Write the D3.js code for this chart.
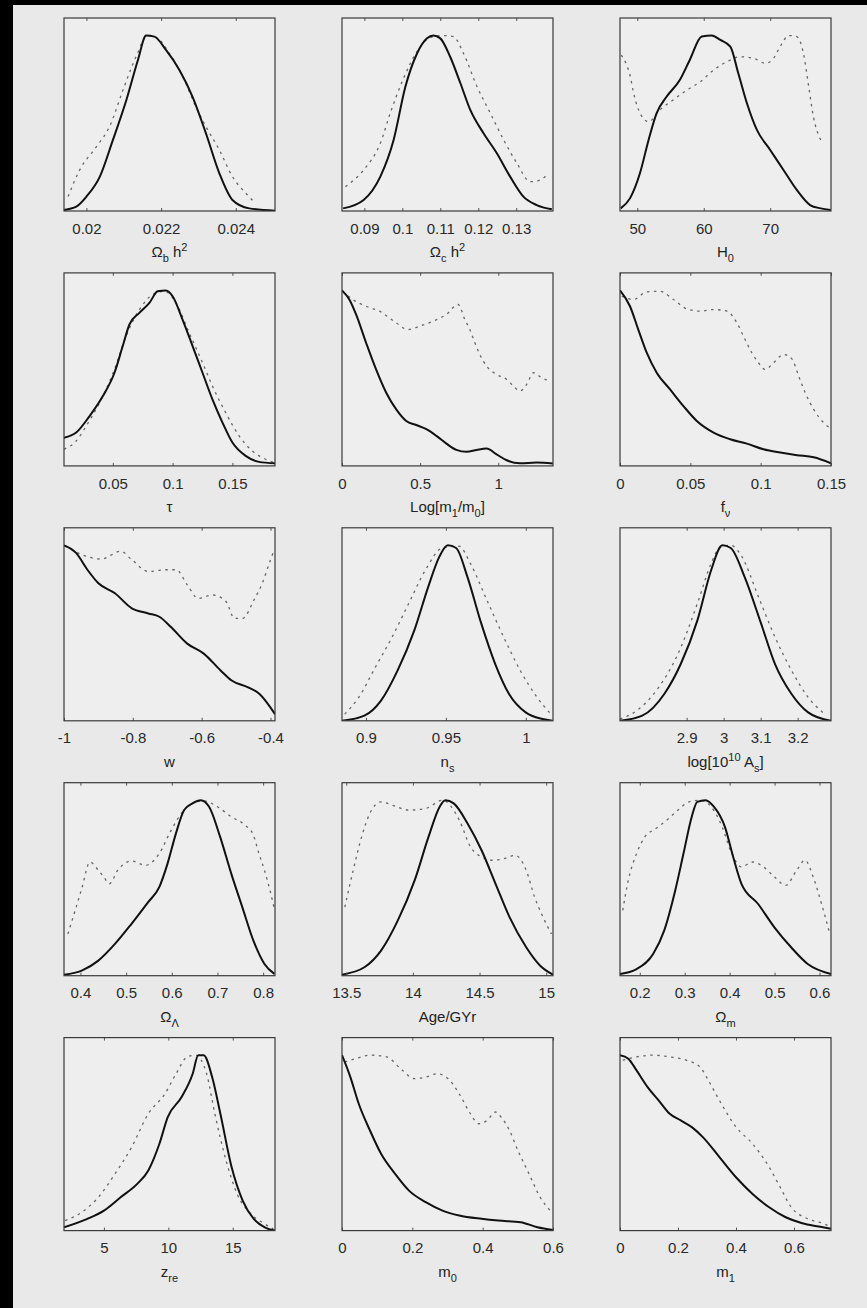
<!DOCTYPE html>
<html>
<head>
<meta charset="utf-8">
<script src="https://cdn.jsdelivr.net/npm/d3@7/dist/d3.min.js"></script>
<style>
  html, body { margin: 0; padding: 0; background: #e9e9e9; overflow: hidden; }
  svg { display: block; }
  text { font-family: "Liberation Sans", Arial, sans-serif; fill: #222; }
</style>
</head>
<body>
<svg id="fig" width="867" height="1308"></svg>
<script>
// ---- data: marginalised likelihoods (solid) and mean likelihoods (dotted), peak normalised to 1 ----

// Omega_b h^2
var obhDomain = [0.0194, 0.02505];
var obhTicks = [0.02, 0.022, 0.024];
var obhLabel = [["Ω"], ["b", "sub"], [" h"], ["2", "sup"]];
var obhSolid = [[0.01940,0.006],[0.01973,0.025],[0.02000,0.082],[0.02036,0.196],[0.02071,0.405],[0.02107,0.633],[0.02138,0.861],[0.02160,1.0],[0.02182,0.994],[0.02213,0.918],[0.02249,0.804],[0.02284,0.652],[0.02320,0.443],[0.02356,0.215],[0.02391,0.063],[0.02436,0.015],[0.02505,0.002]];
var obhDotted = [[0.01951,0.082],[0.01982,0.234],[0.02027,0.367],[0.02062,0.481],[0.02098,0.69],[0.02133,0.88],[0.02164,1.0],[0.02187,0.99],[0.02222,0.899],[0.02258,0.766],[0.02293,0.595],[0.02320,0.481],[0.02356,0.348],[0.02391,0.196],[0.02427,0.101],[0.02453,0.044]];

// Omega_c h^2
var ochDomain = [0.0841, 0.1397];
var ochTicks = [0.09, 0.1, 0.11, 0.12, 0.13];
var ochLabel = [["Ω"], ["c", "sub"], [" h"], ["2", "sup"]];
var ochSolid = [[0.0844,0.015],[0.0898,0.063],[0.0942,0.196],[0.0977,0.405],[0.1008,0.708],[0.1039,0.899],[0.1065,0.984],[0.1082,1.0],[0.1100,0.984],[0.1126,0.879],[0.1153,0.728],[0.1179,0.576],[0.1214,0.443],[0.1249,0.329],[0.1284,0.196],[0.1319,0.082],[0.1354,0.034],[0.1394,0.01]];
var ochDotted = [[0.0850,0.139],[0.0898,0.234],[0.0942,0.386],[0.0968,0.557],[0.1000,0.74],[0.1039,0.91],[0.1075,0.99],[0.1110,1.0],[0.1135,0.994],[0.1161,0.899],[0.1197,0.708],[0.1232,0.557],[0.1267,0.405],[0.1302,0.272],[0.1337,0.167],[0.1363,0.177],[0.1385,0.215]];

// H_0
var h0Domain = [47.4, 79.15];
var h0Ticks = [50, 60, 70];
var h0Label = [["H"], ["0", "sub"]];
var h0Solid = [[47.5,0.015],[48.9,0.072],[50.4,0.215],[51.7,0.405],[52.9,0.557],[54.4,0.651],[56.4,0.747],[57.9,0.861],[59.7,0.994],[61.2,1.0],[62.5,0.975],[64.0,0.937],[65.2,0.785],[66.5,0.614],[68.0,0.462],[70.0,0.348],[72.0,0.234],[74.0,0.12],[76.0,0.034],[77.6,0.015],[79.1,0.006]];
var h0Dotted = [[47.6,0.889],[48.4,0.832],[48.9,0.775],[49.4,0.68],[50.2,0.576],[51.7,0.509],[53.4,0.576],[55.4,0.633],[57.5,0.69],[59.5,0.737],[61.5,0.804],[63.5,0.851],[65.5,0.879],[67.5,0.87],[69.3,0.842],[70.5,0.87],[71.5,0.937],[72.8,1.0],[74.0,0.994],[75.0,0.899],[75.8,0.708],[76.5,0.538],[77.6,0.405]];

// tau
var tauDomain = [0.0092, 0.1856];
var tauTicks = [0.05, 0.1, 0.15];
var tauLabel = [["τ"]];
var tauSolid = [[0.0092,0.161],[0.0194,0.19],[0.0306,0.284],[0.0417,0.398],[0.0514,0.531],[0.0583,0.683],[0.0639,0.806],[0.0722,0.872],[0.0806,0.929],[0.0875,0.995],[0.0944,1.0],[0.1,0.967],[0.1083,0.834],[0.1167,0.683],[0.125,0.531],[0.1333,0.379],[0.1417,0.247],[0.15,0.133],[0.1611,0.057],[0.1722,0.023],[0.1856,0.015]];
var tauDotted = [[0.0092,0.095],[0.0194,0.142],[0.0278,0.228],[0.0389,0.36],[0.0514,0.55],[0.0611,0.74],[0.0722,0.89],[0.0833,0.976],[0.0931,0.995],[0.1028,0.929],[0.1139,0.758],[0.125,0.588],[0.1333,0.455],[0.1444,0.303],[0.1556,0.171],[0.1667,0.085],[0.1778,0.038],[0.185,0.019]];

// Log[m1/m0]
var lmrDomain = [0, 1.35];
var lmrTicks = [0, 0.5, 1];
var lmrLabel = [["Log[m"], ["1", "sub"], ["/m"], ["0", "sub"], ["]"]];
var lmrSolid = [[0,1.0],[0.047,0.948],[0.09,0.863],[0.154,0.702],[0.218,0.55],[0.283,0.417],[0.347,0.322],[0.411,0.256],[0.475,0.233],[0.54,0.209],[0.604,0.171],[0.668,0.127],[0.732,0.091],[0.797,0.08],[0.861,0.091],[0.925,0.099],[0.989,0.066],[1.054,0.032],[1.139,0.015],[1.246,0.019],[1.349,0.013]];
var lmrDotted = [[0.004,0.995],[0.069,0.948],[0.154,0.91],[0.24,0.882],[0.347,0.815],[0.422,0.777],[0.497,0.796],[0.582,0.825],[0.668,0.863],[0.743,0.92],[0.786,0.834],[0.818,0.777],[0.85,0.702],[0.882,0.635],[0.925,0.569],[0.989,0.521],[1.054,0.493],[1.096,0.455],[1.139,0.427],[1.182,0.465],[1.225,0.531],[1.278,0.502],[1.332,0.484]];

// f_nu
var fnuDomain = [0, 0.15];
var fnuTicks = [0, 0.05, 0.1, 0.15];
var fnuLabel = [["f"], ["ν", "sub"]];
var fnuSolid = [[0,1.0],[0.0071,0.91],[0.013,0.777],[0.019,0.645],[0.0261,0.531],[0.0356,0.436],[0.0451,0.341],[0.0546,0.256],[0.0665,0.19],[0.0783,0.152],[0.0902,0.127],[0.102,0.095],[0.1139,0.076],[0.1258,0.061],[0.1377,0.049],[0.15,0.015]];
var fnuDotted = [[0.0012,0.967],[0.0095,0.948],[0.019,0.992],[0.0285,0.995],[0.038,0.948],[0.0475,0.895],[0.057,0.882],[0.0665,0.891],[0.076,0.882],[0.0831,0.815],[0.0889,0.72],[0.0937,0.645],[0.0984,0.588],[0.1032,0.55],[0.1092,0.588],[0.1163,0.635],[0.1222,0.61],[0.127,0.512],[0.1317,0.417],[0.1377,0.322],[0.1448,0.246],[0.149,0.218]];

// w
var wDomain = [-1, -0.387];
var wTicks = [-1, -0.8, -0.6, -0.4];
var wLabel = [["w"]];
var wSolid = [[-1,1.0],[-0.965,0.957],[-0.932,0.861],[-0.9,0.784],[-0.852,0.727],[-0.803,0.641],[-0.755,0.612],[-0.723,0.593],[-0.69,0.536],[-0.642,0.44],[-0.594,0.383],[-0.545,0.287],[-0.513,0.23],[-0.465,0.191],[-0.432,0.153],[-0.387,0.038]];
var wDotted = [[-0.997,0.999],[-0.948,0.947],[-0.892,0.922],[-0.835,0.966],[-0.803,0.918],[-0.755,0.851],[-0.706,0.861],[-0.674,0.861],[-0.642,0.775],[-0.61,0.698],[-0.569,0.717],[-0.529,0.679],[-0.505,0.584],[-0.481,0.584],[-0.448,0.689],[-0.424,0.784],[-0.4,0.918],[-0.389,0.976]];

// n_s
var nsDomain = [0.885, 1.017];
var nsTicks = [0.9, 0.95, 1];
var nsLabel = [["n"], ["s", "sub"]];
var nsSolid = [[0.885,0.0],[0.899,0.029],[0.9094,0.115],[0.9198,0.287],[0.9303,0.517],[0.939,0.765],[0.946,0.937],[0.9512,1.0],[0.9564,0.985],[0.9634,0.822],[0.9721,0.555],[0.9808,0.325],[0.9895,0.153],[0.9999,0.048],[1.0104,0.01],[1.0167,0.0]];
var nsDotted = [[0.8867,0.038],[0.8955,0.134],[0.9059,0.306],[0.9164,0.478],[0.9268,0.67],[0.9373,0.861],[0.9477,0.985],[0.9582,0.995],[0.9652,0.899],[0.9756,0.689],[0.9861,0.478],[0.9965,0.287],[1.007,0.134],[1.0157,0.038]];

// log[10^10 A_s]
var asDomain = [2.72, 3.29];
var asTicks = [2.9, 3, 3.1, 3.2];
var asLabel = [["log[10"], ["10", "sup"], [" A"], ["s", "sub"], ["]"]];
var asSolid = [[2.72,0.0],[2.78,0.029],[2.8396,0.153],[2.8844,0.325],[2.9293,0.574],[2.9666,0.861],[2.9965,1.0],[3.019,0.985],[3.0563,0.822],[3.101,0.555],[3.1385,0.325],[3.1834,0.153],[3.2282,0.048],[3.29,0.0]];
var asDotted = [[2.72,0.01],[2.7648,0.057],[2.8246,0.191],[2.877,0.383],[2.9293,0.67],[2.9666,0.899],[2.9891,0.985],[3.019,1.0],[3.0488,0.937],[3.0937,0.708],[3.1385,0.478],[3.1834,0.287],[3.2282,0.134],[3.2731,0.038]];

// Omega_Lambda
var olDomain = [0.364, 0.826];
var olTicks = [0.4, 0.5, 0.6, 0.7, 0.8];
var olLabel = [["Ω"], ["Λ", "sub"]];
var olSolid = [[0.364,0.006],[0.4028,0.029],[0.4392,0.086],[0.4756,0.181],[0.5119,0.296],[0.5483,0.419],[0.5726,0.505],[0.5907,0.639],[0.609,0.81],[0.6271,0.944],[0.6453,0.982],[0.6635,1.0],[0.6817,0.963],[0.7059,0.791],[0.7302,0.582],[0.7544,0.391],[0.7787,0.2],[0.8029,0.067],[0.8248,0.01]];
var olDotted = [[0.3725,0.238],[0.3907,0.391],[0.4028,0.496],[0.421,0.648],[0.4392,0.601],[0.4513,0.562],[0.4634,0.524],[0.4816,0.601],[0.5119,0.654],[0.5422,0.629],[0.5726,0.696],[0.5968,0.82],[0.6211,0.925],[0.6453,0.982],[0.6696,0.997],[0.6999,0.963],[0.7302,0.906],[0.7605,0.858],[0.7787,0.801],[0.7908,0.696],[0.8029,0.601],[0.8151,0.486],[0.8236,0.391]];

// Age / GYr
var ageDomain = [13.468, 15.051];
var ageTicks = [13.5, 14, 14.5, 15];
var ageLabel = [["Age/GYr"]];
var ageSolid = [[13.468,0.006],[13.636,0.048],[13.761,0.143],[13.887,0.315],[14.013,0.543],[14.117,0.791],[14.201,0.963],[14.243,1.0],[14.306,0.982],[14.41,0.868],[14.515,0.715],[14.62,0.524],[14.725,0.334],[14.85,0.162],[14.955,0.057],[15.051,0.006]];
var ageDotted = [[13.489,0.391],[13.552,0.601],[13.615,0.791],[13.677,0.925],[13.761,0.991],[13.845,0.972],[13.971,0.944],[14.096,0.953],[14.222,1.0],[14.348,0.887],[14.432,0.734],[14.515,0.677],[14.599,0.658],[14.683,0.667],[14.767,0.686],[14.85,0.601],[14.913,0.448],[14.976,0.334],[15.039,0.238]];

// Omega_m
var omDomain = [0.156, 0.6256];
var omTicks = [0.2, 0.3, 0.4, 0.5, 0.6];
var omLabel = [["Ω"], ["m", "sub"]];
var omSolid = [[0.156,0.01],[0.1929,0.038],[0.2297,0.124],[0.2543,0.257],[0.2789,0.486],[0.2973,0.696],[0.3157,0.906],[0.328,0.991],[0.3465,1.0],[0.3649,0.963],[0.3895,0.848],[0.4079,0.677],[0.4263,0.524],[0.463,0.41],[0.4996,0.276],[0.5369,0.162],[0.5738,0.067],[0.6254,0.01]];
var omDotted = [[0.1621,0.372],[0.1744,0.543],[0.1929,0.696],[0.2113,0.791],[0.2359,0.839],[0.2605,0.887],[0.2851,0.944],[0.3096,0.991],[0.3342,1.0],[0.3588,0.963],[0.3834,0.848],[0.4018,0.715],[0.4263,0.62],[0.4509,0.648],[0.4755,0.62],[0.5001,0.562],[0.5247,0.515],[0.5492,0.601],[0.5676,0.658],[0.5861,0.562],[0.6045,0.41],[0.6229,0.238]];

// z_re
var zreDomain = [1.9, 18.28];
var zreTicks = [5, 10, 15];
var zreLabel = [["z"], ["re", "sub"]];
var zreSolid = [[1.9,0.019],[3.709,0.067],[5.0,0.114],[6.293,0.19],[7.585,0.266],[8.446,0.343],[9.307,0.495],[9.953,0.647],[11.03,0.761],[11.89,0.894],[12.32,1.0],[12.75,0.999],[13.4,0.875],[14.04,0.666],[14.91,0.362],[15.77,0.171],[16.63,0.067],[17.49,0.019],[18.27,0.0]];
var zreDotted = [[1.986,0.057],[3.278,0.105],[4.57,0.19],[5.862,0.324],[7.154,0.476],[8.446,0.666],[9.738,0.78],[10.6,0.894],[11.46,0.99],[12.11,1.0],[12.97,0.894],[13.61,0.666],[14.48,0.4],[15.34,0.209],[16.41,0.095],[17.49,0.038],[18.14,0.01]];

// m_0
var m0Domain = [0, 0.6];
var m0Ticks = [0, 0.2, 0.4, 0.6];
var m0Label = [["m"], ["0", "sub"]];
var m0Solid = [[0,1.0],[0.0238,0.875],[0.0476,0.723],[0.0794,0.571],[0.1111,0.438],[0.1508,0.324],[0.1905,0.228],[0.2381,0.162],[0.2857,0.114],[0.3333,0.086],[0.3968,0.067],[0.4444,0.057],[0.5079,0.048],[0.5556,0.019],[0.6,0.004]];
var m0Dotted = [[0.0079,0.961],[0.0397,0.98],[0.0794,1.0],[0.127,0.99],[0.1667,0.923],[0.2063,0.866],[0.2381,0.875],[0.2698,0.894],[0.3016,0.866],[0.3333,0.78],[0.3651,0.666],[0.3889,0.609],[0.4127,0.628],[0.4365,0.676],[0.4524,0.647],[0.4762,0.571],[0.5,0.457],[0.5317,0.324],[0.5635,0.19],[0.5921,0.114]];

// m_1
var m1Domain = [0, 0.7276];
var m1Ticks = [0, 0.2, 0.4, 0.6];
var m1Label = [["m"], ["1", "sub"]];
var m1Solid = [[0,1.0],[0.0286,0.98],[0.0571,0.913],[0.0952,0.818],[0.1333,0.742],[0.1714,0.666],[0.2095,0.628],[0.2476,0.59],[0.2857,0.533],[0.3429,0.419],[0.4,0.304],[0.4571,0.209],[0.5143,0.133],[0.5714,0.076],[0.6286,0.042],[0.6857,0.023],[0.7276,0.01]];
var m1Dotted = [[0.0095,0.971],[0.0571,0.99],[0.1143,1.0],[0.1714,0.99],[0.2286,0.971],[0.2762,0.932],[0.3048,0.856],[0.3429,0.742],[0.4,0.59],[0.4571,0.495],[0.5143,0.362],[0.5524,0.247],[0.5905,0.133],[0.6476,0.067],[0.7048,0.038],[0.7276,0.019]];

var panels = [
  [obhDomain, obhTicks, obhLabel, obhSolid, obhDotted],
  [ochDomain, ochTicks, ochLabel, ochSolid, ochDotted],
  [h0Domain, h0Ticks, h0Label, h0Solid, h0Dotted],
  [tauDomain, tauTicks, tauLabel, tauSolid, tauDotted],
  [lmrDomain, lmrTicks, lmrLabel, lmrSolid, lmrDotted],
  [fnuDomain, fnuTicks, fnuLabel, fnuSolid, fnuDotted],
  [wDomain, wTicks, wLabel, wSolid, wDotted],
  [nsDomain, nsTicks, nsLabel, nsSolid, nsDotted],
  [asDomain, asTicks, asLabel, asSolid, asDotted],
  [olDomain, olTicks, olLabel, olSolid, olDotted],
  [ageDomain, ageTicks, ageLabel, ageSolid, ageDotted],
  [omDomain, omTicks, omLabel, omSolid, omDotted],
  [zreDomain, zreTicks, zreLabel, zreSolid, zreDotted],
  [m0Domain, m0Ticks, m0Label, m0Solid, m0Dotted],
  [m1Domain, m1Ticks, m1Label, m1Solid, m1Dotted]
];

// ---- layout ----
var colLeft = [64, 342, 620];
var boxW = 211, boxH = 193;
var rowTop = 18, rowStep = 254.9;

var svg = d3.select("#fig");

// photographed frame: black edge top/left, grey paper
svg.append("rect").attr("width", 867).attr("height", 1308).attr("fill", "#e9e9e9");
svg.append("rect").attr("width", 867).attr("height", 5).attr("fill", "#000");
svg.append("rect").attr("width", 13).attr("height", 1308).attr("fill", "#000");

var defs = svg.append("defs");

panels.forEach(function (p, i) {
  var col = i % 3, row = Math.floor(i / 3);
  var x0 = colLeft[col], y0 = rowTop + row * rowStep;

  var x = d3.scaleLinear().domain(p[0]).range([0, boxW]);
  var y = d3.scaleLinear().domain([0, 1.1]).range([boxH, 0]);

  var g = svg.append("g").attr("transform", "translate(" + x0 + "," + y0 + ")");

  defs.append("clipPath").attr("id", "clip" + i)
    .append("rect").attr("width", boxW).attr("height", boxH);

  g.append("rect").attr("width", boxW).attr("height", boxH).attr("fill", "#eeeeee");

  var line = d3.line()
    .x(function (d) { return x(d[0]); })
    .y(function (d) { return y(d[1]); })
    .curve(d3.curveMonotoneX);

  var plot = g.append("g").attr("clip-path", "url(#clip" + i + ")");

  plot.append("path")
    .attr("d", line(p[4]))
    .style("fill", "none")
    .style("stroke", "#666")
    .style("stroke-width", 1.3)
    .style("stroke-dasharray", "2.5,4.5");

  plot.append("path")
    .attr("d", line(p[3]))
    .style("fill", "none")
    .style("stroke", "#111")
    .style("stroke-width", 2);

  // bottom axis, ticks pointing inward
  var bottom = g.append("g")
    .attr("transform", "translate(0," + boxH + ")")
    .call(d3.axisBottom(x).tickValues(p[1]).tickSize(-3).tickPadding(12)
      .tickFormat(function (d) { return String(d); }));
  bottom.select(".domain").remove();
  bottom.selectAll("line").attr("stroke", "#555");
  bottom.selectAll("text").style("font-size", "15px").style("fill", "#2a2a2a")
    .attr("font-family", "Liberation Sans, Arial, sans-serif");

  var top = g.append("g")
    .call(d3.axisTop(x).tickValues(p[1]).tickSize(-3).tickFormat(""));
  top.select(".domain").remove();
  top.selectAll("line").attr("stroke", "#555");

  g.append("rect").attr("width", boxW).attr("height", boxH)
    .attr("fill", "none").attr("stroke", "#3a3a3a").attr("stroke-width", 1.2);

  // axis title with sub/superscripts
  var t = g.append("text")
    .attr("x", boxW / 2)
    .attr("y", boxH + 46)
    .attr("text-anchor", "middle")
    .style("font-size", "15px");
  var shift = 0;
  p[2].forEach(function (seg) {
    var dy = 0;
    if (seg[1] === "sub") dy = 5 - shift;
    else if (seg[1] === "sup") dy = -6 - shift;
    else dy = -shift;
    shift += dy;
    t.append("tspan")
      .attr("dy", dy)
      .style("font-size", seg[1] ? "11px" : "15px")
      .text(seg[0]);
  });
});
</script>
</body>
</html>
